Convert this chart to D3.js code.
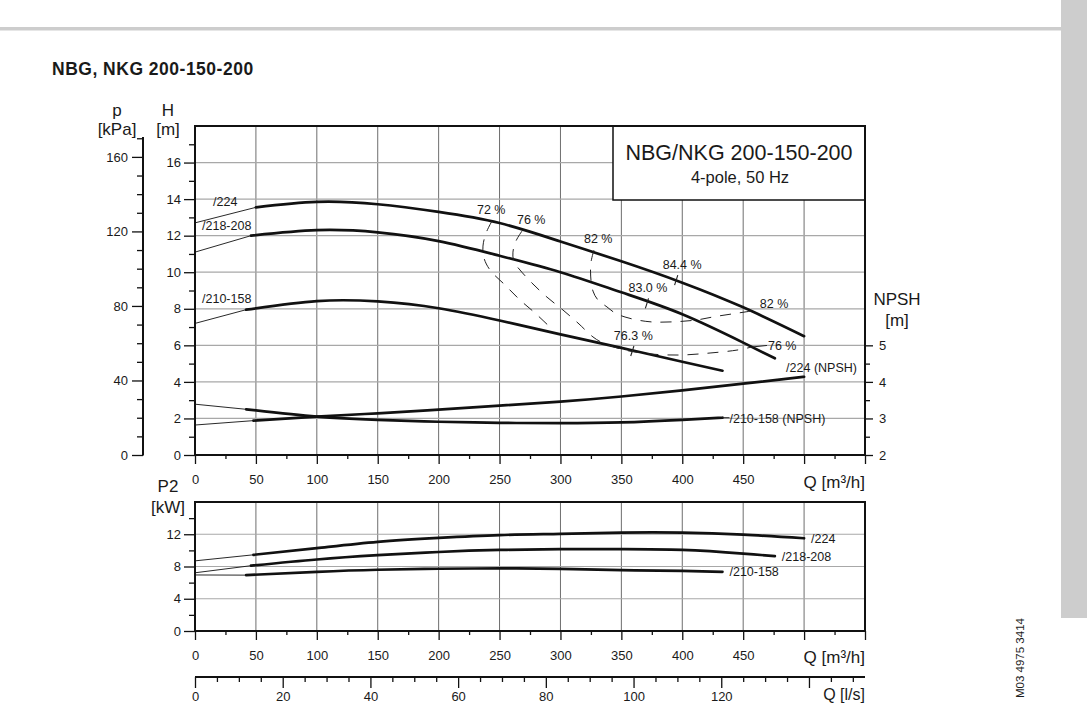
<!DOCTYPE html>
<html><head><meta charset="utf-8">
<script src="https://cdn.jsdelivr.net/npm/d3@7"></script>
<style>
body{margin:0;background:#fff}
svg{display:block}
text{font-family:"Liberation Sans",Arial,sans-serif;fill:#1a1a1a}
</style>
</head><body>
<svg id="c" width="1087" height="704"></svg>
<script>
// ---------------- DATA ----------------
// Head curves H [m] vs Q [m3/h]; first point = thin extension start, second = start of operating range
const q224 = [0, 50, 100, 150, 200, 250, 300, 350, 400, 450, 500];
const h224 = [12.7, 13.55, 13.85, 13.72, 13.3, 12.69, 11.68, 10.6, 9.43, 8.08, 6.5];
const q218 = [0, 46, 100, 150, 200, 250, 300, 350, 400, 450, 476];
const h218 = [11.1, 12.0, 12.3, 12.18, 11.7, 10.9, 10.0, 8.9, 7.7, 6.15, 5.29];
const q210 = [0, 42, 100, 150, 200, 250, 300, 350, 400, 433];
const h210 = [7.2, 7.95, 8.42, 8.4, 8.03, 7.36, 6.6, 5.86, 5.1, 4.61];

// NPSH [m]
const qNpsh224 = [0, 48, 100, 150, 200, 250, 300, 350, 400, 450, 500];
const npsh224 = [2.82, 2.94, 3.05, 3.14, 3.24, 3.35, 3.46, 3.6, 3.77, 3.95, 4.14];
const qNpsh210 = [0, 42, 100, 150, 200, 250, 300, 350, 400, 433];
const npsh210 = [3.39, 3.25, 3.05, 2.96, 2.91, 2.88, 2.87, 2.89, 2.96, 3.02];

// Power P2 [kW]
const qP224 = [0, 48, 100, 150, 200, 250, 300, 350, 400, 450, 500];
const p224 = [8.7, 9.45, 10.27, 11.05, 11.55, 11.9, 12.05, 12.2, 12.2, 11.95, 11.5];
const qP218 = [0, 46, 100, 150, 200, 250, 300, 350, 400, 450, 476];
const p218 = [7.22, 8.1, 8.87, 9.4, 9.8, 10.05, 10.15, 10.15, 10.05, 9.6, 9.28];
const qP210 = [0, 42, 100, 150, 200, 250, 300, 350, 400, 433];
const p210 = [6.95, 6.93, 7.34, 7.6, 7.72, 7.76, 7.7, 7.55, 7.45, 7.34];

// Iso-efficiency contours (Q, H)
const eff72Q = [243.8, 238.9, 236.4, 237.2, 242.2, 254.5, 266.8, 279.1, 293.1];
const eff72H = [12.8, 12.14, 11.43, 10.78, 10.12, 9.3, 8.48, 7.77, 6.89];
const eff76Q = [268.4, 263.5, 261.0, 261.9, 266.8, 276.6, 288.9, 302.1, 314.4, 326.7, 334.9, 353, 373.5, 398.1, 422.8, 444.9, 457.2];
const eff76H = [12.25, 11.71, 11.1, 10.56, 10.12, 9.41, 8.64, 7.93, 7.22, 6.46, 6.13, 5.74, 5.53, 5.47, 5.58, 5.74, 5.91];
const eff82Q = [327.5, 325.1, 324.8, 326.7, 330.8, 338.2, 344.8, 353, 362.8, 375.1, 393.9, 411.9, 427.5, 443.1, 457.1];
const eff82H = [11.21, 10.56, 9.79, 8.97, 8.48, 8.1, 7.77, 7.55, 7.39, 7.28, 7.29, 7.39, 7.58, 7.74, 7.88];

// Best efficiency points
const bepQ = [395, 371, 359];
const bepH = [9.57, 8.3, 5.69];
const bepLabels = ["84.4 %", "83.0 %", "76.3 %"];

// Tick values
const qTicks = [0, 50, 100, 150, 200, 250, 300, 350, 400, 450, 500, 550];
const qMinor = [25, 75, 125, 175, 225, 275, 325, 375, 425, 475, 525];
const hTicks = [0, 2, 4, 6, 8, 10, 12, 14, 16];
const hMinor = [1, 3, 5, 7, 9, 11, 13, 15, 17];
const kpaTicks = [0, 40, 80, 120, 160];
const kpaMinor = [10, 20, 30, 50, 60, 70, 90, 100, 110, 130, 140, 150, 170];
const npshTicks = [2, 3, 4, 5];
const npshMinor = [2.5, 3.5, 4.5];
const p2Ticks = [0, 4, 8, 12];
const p2Minor = [2, 6, 10, 14];
const lsTicks = [0, 20, 40, 60, 80, 100, 120, 140];
const lsMinor = [5,10,15,25,30,35,45,50,55,65,70,75,85,90,95,105,110,115,125,130,135,145,150];

// ---------------- SCALES ----------------
const svg = d3.select("#c");
const x = d3.scaleLinear().domain([0, 550]).range([195, 865]);
const yH = d3.scaleLinear().domain([0, 18]).range([455, 126]);
const yKpa = d3.scaleLinear().domain([0, 18 * 9.81]).range([455, 126]);
const yN = d3.scaleLinear().domain([2, 11]).range([455, 126]);
const yP = d3.scaleLinear().domain([0, 16]).range([631, 502]);
const xLs = d3.scaleLinear().domain([0, 550 / 3.6]).range([195, 865]);

const INK = "#111";

// page decoration
svg.append("rect").attr("x", 0).attr("y", 27).attr("width", 1061).attr("height", 3.5).attr("fill", "#cdcdcd");
svg.append("rect").attr("x", 1061).attr("y", 0).attr("width", 26).attr("height", 618).attr("fill", "#cdcdcd");
svg.append("text").attr("x", 52).attr("y", 75).attr("font-size", 17.5).attr("font-weight", "bold")
  .attr("letter-spacing", 0.5).text("NBG, NKG 200-150-200");
svg.append("text").attr("transform", "translate(1024,698) rotate(-90)").attr("font-size", 11.5)
  .text("M03 4975 3414");

// ---------------- GRID ----------------
const gridQ = qTicks.filter(v => v > 0 && v < 550);
function vgrid(yTop, yBot) {
  svg.append("g").selectAll("line").data(gridQ).join("line")
    .attr("x1", d => x(d)).attr("x2", d => x(d)).attr("y1", yTop).attr("y2", yBot)
    .attr("stroke", "#6e6e6e").attr("stroke-width", 1);
}
vgrid(yH(18), yH(0));
vgrid(yP(16), yP(0));
svg.append("g").selectAll("line").data(hTicks.filter(v => v > 0)).join("line")
  .attr("x1", x(0)).attr("x2", x(550)).attr("y1", d => yH(d)).attr("y2", d => yH(d))
  .attr("stroke", "#a8a8a8").attr("stroke-width", 1.2);
svg.append("g").selectAll("line").data(p2Ticks.filter(v => v > 0)).join("line")
  .attr("x1", x(0)).attr("x2", x(550)).attr("y1", d => yP(d)).attr("y2", d => yP(d))
  .attr("stroke", "#a8a8a8").attr("stroke-width", 1.2);

// legend box
svg.append("rect").attr("x", 613).attr("y", 126).attr("width", 252).attr("height", 74)
  .attr("fill", "#fff").attr("stroke", INK).attr("stroke-width", 1.5);
svg.append("text").attr("x", 739).attr("y", 160).attr("text-anchor", "middle").attr("font-size", 21.5)
  .text("NBG/NKG 200-150-200");
svg.append("text").attr("x", 740).attr("y", 183).attr("text-anchor", "middle").attr("font-size", 16.5)
  .text("4-pole, 50 Hz");

// ---------------- CURVES ----------------
function drawCurve(qs, vs, ys) {
  const pts = d3.zip(qs, vs);
  const line = d3.line().x(d => x(d[0])).y(d => ys(d[1]));
  svg.append("path").attr("d", line(pts.slice(0, 2))).attr("fill", "none")
    .attr("stroke", INK).attr("stroke-width", 0.9);
  svg.append("path").attr("d", line.curve(d3.curveNatural)(pts.slice(1))).attr("fill", "none")
    .attr("stroke", INK).attr("stroke-width", 2.7).attr("stroke-linecap", "round");
  return pts[pts.length - 1];
}
drawCurve(q224, h224, yH);
drawCurve(q218, h218, yH);
drawCurve(q210, h210, yH);
const endN224 = drawCurve(qNpsh224, npsh224, yN);
const endN210 = drawCurve(qNpsh210, npsh210, yN);
const endP224 = drawCurve(qP224, p224, yP);
const endP218 = drawCurve(qP218, p218, yP);
const endP210 = drawCurve(qP210, p210, yP);

// iso-efficiency contours
const effLine = d3.line().x(d => x(d[0])).y(d => yH(d[1])).curve(d3.curveCatmullRom.alpha(0.5));
[[eff72Q, eff72H], [eff76Q, eff76H], [eff82Q, eff82H]].forEach(([qs, hs]) => {
  svg.append("path").attr("d", effLine(d3.zip(qs, hs))).attr("fill", "none")
    .attr("stroke", "#222").attr("stroke-width", 1).attr("stroke-dasharray", "11,9");
});

const fs = 12.5;
function lab(px, py, t, anchor) {
  svg.append("text").attr("x", px).attr("y", py).attr("font-size", fs)
    .attr("text-anchor", anchor || "start").text(t);
}
// contour labels (top)
lab(x(eff72Q[0]) - 15, yH(eff72H[0]) - 7, "72 %");
lab(x(eff76Q[0]) - 5, yH(eff76H[0]) - 7, "76 %");
lab(x(eff82Q[0]) - 10, yH(eff82H[0]) - 7, "82 %");
// contour labels (right ends)
const e82 = [x(eff82Q[eff82Q.length - 1]), yH(eff82H[eff82H.length - 1])];
lab(e82[0] + 8, e82[1] - 3, "82 %");
const e76 = [x(eff76Q[eff76Q.length - 1]), yH(eff76H[eff76H.length - 1])];
svg.append("line").attr("x1", e76[0]).attr("y1", e76[1]).attr("x2", e76[0] + 15).attr("y2", e76[1] - 1.5)
  .attr("stroke", "#222").attr("stroke-width", 1);
lab(e76[0] + 16, e76[1] + 3, "76 %");

// BEP ticks
bepQ.forEach((q, i) => {
  const bx = x(q), by = yH(bepH[i]);
  svg.append("line").attr("x1", bx + 1.6).attr("y1", by - 5).attr("x2", bx - 1.6).attr("y2", by + 5)
    .attr("stroke", "#222").attr("stroke-width", 1.1);
  lab(bx + (i === 0 ? 6 : 1), by - 11, bepLabels[i], "middle");
});

// curve labels
lab(213, 206, "/224");
lab(202, 230, "/218-208");
lab(202, 303, "/210-158");
lab(x(endN224[0]) - 18, yN(endN224[1]) - 5, "/224 (NPSH)");
svg.append("line").attr("x1", x(endN210[0])).attr("y1", yN(endN210[1]))
  .attr("x2", x(endN210[0]) + 7).attr("y2", yN(endN210[1])).attr("stroke", "#222");
lab(x(endN210[0]) + 7, yN(endN210[1]) + 5.5, "/210-158 (NPSH)");
lab(x(endP224[0]) + 7, yP(endP224[1]) + 5, "/224");
lab(x(endP218[0]) + 7, yP(endP218[1]) + 5, "/218-208");
lab(x(endP210[0]) + 7, yP(endP210[1]) + 4.5, "/210-158");

// ---------------- AXES ----------------
function styleAxis(g, size) {
  g.select(".domain").remove();
  g.selectAll("line").attr("stroke", INK).attr("stroke-width", 1.3);
  g.selectAll("text").attr("font-size", size || 13).attr("font-family", "Liberation Sans, Arial, sans-serif").attr("fill", "#1a1a1a");
}
function axis(gen, tx, ty) {
  const g = svg.append("g").attr("transform", `translate(${tx},${ty})`).call(gen);
  styleAxis(g);
  return g;
}
// H axis
axis(d3.axisLeft(yH).tickValues(hTicks).tickSize(11).tickPadding(3).tickFormat(d3.format("d")), 195, 0);
axis(d3.axisLeft(yH).tickValues(hMinor).tickSize(6).tickFormat(""), 195, 0);
// kPa axis
axis(d3.axisLeft(yKpa).tickValues(kpaTicks).tickSize(11).tickPadding(4).tickFormat(d3.format("d")), 143, 0);
axis(d3.axisLeft(yKpa).tickValues(kpaMinor).tickSize(6).tickFormat(""), 143, 0);
svg.append("line").attr("x1", 143).attr("x2", 143).attr("y1", 137).attr("y2", 455.5).attr("stroke", INK).attr("stroke-width", 2);
// NPSH axis
axis(d3.axisRight(yN).tickValues(npshTicks).tickSize(8).tickPadding(6).tickFormat(d3.format("d")), 865, 0);
axis(d3.axisRight(yN).tickValues(npshMinor).tickSize(5).tickFormat(""), 865, 0);
// Q axis main + lower
const qFmt = d => (d < 500 ? String(d) : "");
axis(d3.axisBottom(x).tickValues(qTicks).tickSize(9).tickPadding(11).tickFormat(qFmt), 0, 455);
axis(d3.axisBottom(x).tickValues(qMinor).tickSize(4).tickFormat(""), 0, 455);
axis(d3.axisBottom(x).tickValues(qTicks).tickSize(9).tickPadding(11).tickFormat(qFmt), 0, 631);
axis(d3.axisBottom(x).tickValues(qMinor).tickSize(4).tickFormat(""), 0, 631);
// P2 axis
axis(d3.axisLeft(yP).tickValues(p2Ticks).tickSize(11).tickPadding(3).tickFormat(d3.format("d")), 195, 0);
axis(d3.axisLeft(yP).tickValues(p2Minor).tickSize(6).tickFormat(""), 195, 0);
// l/s axis
axis(d3.axisBottom(xLs).tickValues(lsTicks).tickSize(11).tickPadding(4).tickFormat(d => (d < 140 ? String(d) : "")), 0, 677);
axis(d3.axisBottom(xLs).tickValues(lsMinor).tickSize(5).tickFormat(""), 0, 677);
svg.append("line").attr("x1", 195).attr("x2", 865).attr("y1", 677).attr("y2", 677).attr("stroke", INK).attr("stroke-width", 2);

// frames
svg.append("rect").attr("x", 195).attr("y", 126).attr("width", 670).attr("height", 329)
  .attr("fill", "none").attr("stroke", INK).attr("stroke-width", 2);
svg.append("rect").attr("x", 195).attr("y", 502).attr("width", 670).attr("height", 129)
  .attr("fill", "none").attr("stroke", INK).attr("stroke-width", 2);

// axis titles
function title(px, py, t, anchor, size) {
  svg.append("text").attr("x", px).attr("y", py).attr("font-size", size || 17)
    .attr("text-anchor", anchor || "middle").text(t);
}
title(117, 116, "p");
title(117, 135, "[kPa]");
title(168, 116, "H");
title(168, 135, "[m]");
title(897, 305, "NPSH");
title(897, 326, "[m]");
title(168, 492, "P2");
title(168, 513, "[kW]");
title(865, 488, "Q [m³/h]", "end");
title(865, 663, "Q [m³/h]", "end");
title(865, 700, "Q [l/s]", "end", 16);
</script>
</body></html>
